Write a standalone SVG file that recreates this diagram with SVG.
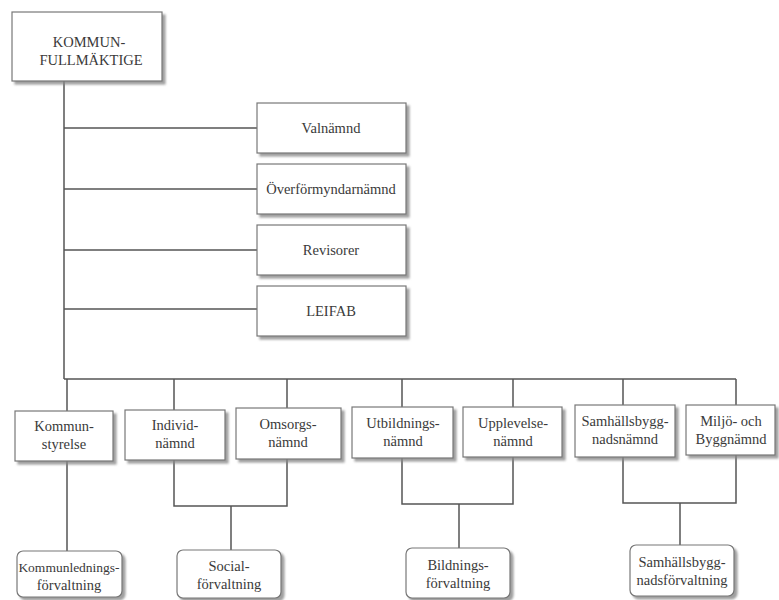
<svg xmlns="http://www.w3.org/2000/svg" width="779" height="600" viewBox="0 0 779 600">
<defs>
<filter id="sh" x="-10%" y="-10%" width="130%" height="140%">
<feDropShadow dx="3" dy="3" stdDeviation="1.2" flood-color="#888" flood-opacity="0.8"/>
</filter>
</defs>
<style>
.b{fill:#fff;stroke:#777;stroke-width:1.2;filter:url(#sh)}
.t{font-family:'Liberation Serif','DejaVu Serif','Times New Roman',serif;font-size:14.5px;fill:#3a3a3a;text-anchor:middle;font-weight:normal}
.c{font-size:14.5px}
.s{font-size:13.5px}
.ln{stroke:#555;stroke-width:1.5;fill:none}
</style>
<rect width="779" height="600" fill="#fff"/>
<g id="connectors" class="ln">
<path d="M64 81V379"/>
<path d="M64 128H257M64 189H257M64 250H257M64 309H257"/>
<path d="M64 379H736"/>
<path d="M67 379V411M174 379V410M287 379V408M402 379V407M513 379V407M623 379V405M736 379V405"/>
<path d="M67 461V551"/>
<path d="M174 460V506H287V459M231 506V550"/>
<path d="M402 458V504H513V457M459 504V548"/>
<path d="M623 457V503H736V455M680 503V545"/>
</g>
<g font-family="Liberation Serif, serif">
<g id="kommunfullmaktige"><rect class="b" x="12" y="12" width="150" height="69"/><text class="t c" x="89" y="47">KOMMUN-</text><text class="t c" x="91" y="65">FULLMÄKTIGE</text></g>
<g id="valnamnd"><rect class="b" x="257" y="103" width="149" height="50"/><text class="t" x="331" y="133">Valnämnd</text></g>
<g id="overformyndarnamnd"><rect class="b" x="257" y="164" width="149" height="50"/><text class="t" x="331" y="194">Överförmyndarnämnd</text></g>
<g id="revisorer"><rect class="b" x="257" y="225" width="149" height="50"/><text class="t" x="331" y="255">Revisorer</text></g>
<g id="leifab"><rect class="b" x="257" y="286" width="149" height="50"/><text class="t" x="331" y="316">LEIFAB</text></g>
<g id="kommunstyrelse"><rect class="b" x="15" y="411" width="98" height="50"/><text class="t" x="64" y="431">Kommun-</text><text class="t" x="64" y="449">styrelse</text></g>
<g id="individnamnd"><rect class="b" x="125" y="410" width="100" height="50"/><text class="t" x="175" y="430">Individ-</text><text class="t" x="175" y="448">nämnd</text></g>
<g id="omsorgsnamnd"><rect class="b" x="236" y="408" width="105" height="51"/><text class="t" x="288" y="429">Omsorgs-</text><text class="t" x="288" y="447">nämnd</text></g>
<g id="utbildningsnamnd"><rect class="b" x="352" y="407" width="101" height="51"/><text class="t" x="403" y="428">Utbildnings-</text><text class="t" x="403" y="446">nämnd</text></g>
<g id="upplevelsenamnd"><rect class="b" x="463" y="407" width="99" height="50"/><text class="t" x="513" y="428">Upplevelse-</text><text class="t" x="513" y="446">nämnd</text></g>
<g id="samhallsbyggnadsnamnd"><rect class="b" x="575" y="405" width="100" height="52"/><text class="t" x="625" y="426">Samhällsbygg-</text><text class="t" x="625" y="444">nadsnämnd</text></g>
<g id="miljo-byggnamnd"><rect class="b" x="686" y="405" width="89" height="50"/><text class="t" x="731" y="426">Miljö- och</text><text class="t" x="731" y="444">Byggnämnd</text></g>
<g id="kommunledningsforvaltning"><rect class="b" x="17" y="551" width="105" height="46" rx="6"/><text class="t s" x="69" y="572">Kommunlednings-</text><text class="t" x="69" y="590">förvaltning</text></g>
<g id="socialforvaltning"><rect class="b" x="177" y="550" width="104" height="48" rx="6"/><text class="t" x="229" y="571">Social-</text><text class="t" x="229" y="589">förvaltning</text></g>
<g id="bildningsforvaltning"><rect class="b" x="406" y="548" width="104" height="50" rx="6"/><text class="t" x="458" y="570">Bildnings-</text><text class="t" x="458" y="588">förvaltning</text></g>
<g id="samhallsbyggnadsforvaltning"><rect class="b" x="630" y="545" width="104" height="51" rx="6"/><text class="t" x="682" y="567">Samhällsbygg-</text><text class="t" x="682" y="585">nadsförvaltning</text></g>
</g>
</svg>
